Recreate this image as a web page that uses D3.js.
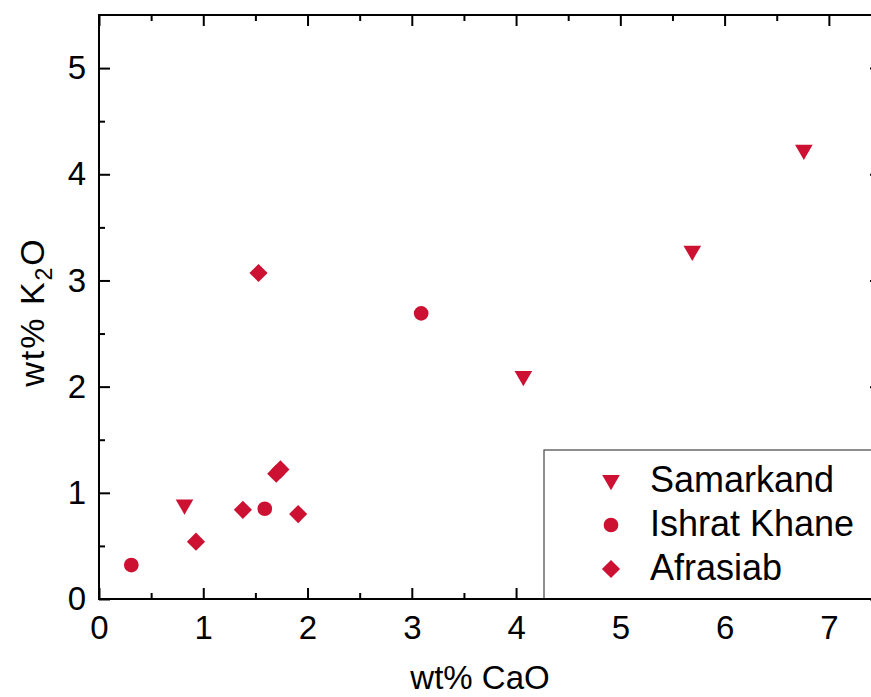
<!DOCTYPE html>
<html>
<head>
<meta charset="utf-8">
<script src="https://cdn.jsdelivr.net/npm/d3@7"></script>
<style>
  html, body { margin: 0; padding: 0; background: #fff; }
  svg { display: block; font-family: "Liberation Sans", Arial, sans-serif; }
</style>
</head>
<body>
<svg id="chart" width="871" height="697"></svg>
<script>
// Sample compositions, wt% CaO vs wt% K2O
const samarkandCaO = [0.82, 4.07, 5.69, 6.76];
const samarkandK2O = [0.89, 2.10, 3.28, 4.23];

const ishratCaO = [0.31, 1.59, 3.09];
const ishratK2O = [0.32, 0.85, 2.69];

const afrasiabCaO = [0.93, 1.38, 1.53, 1.70, 1.74, 1.91];
const afrasiabK2O = [0.54, 0.84, 3.07, 1.18, 1.22, 0.80];

const seriesNames = ["Samarkand", "Ishrat Khane", "Afrasiab"];
const xTicks = [0, 1, 2, 3, 4, 5, 6, 7];
const yTicks = [0, 1, 2, 3, 4, 5];

const red = "#cc1133";
const series = [
  { name: seriesNames[0], x: samarkandCaO, y: samarkandK2O, shape: "tri" },
  { name: seriesNames[1], x: ishratCaO, y: ishratK2O, shape: "circle" },
  { name: seriesNames[2], x: afrasiabCaO, y: afrasiabK2O, shape: "diamond" }
];

const svg = d3.select("#chart");
const plotL = 99, plotT = 15, plotR = 881, plotB = 599;

const x = d3.scaleLinear().domain([0, 7.5]).range([plotL, plotR]);
const y = d3.scaleLinear().domain([0, 5.5]).range([plotB, plotT]);

const minorX = d3.range(0.5, 7.5, 1);
const minorY = d3.range(0.5, 5.5, 1);

function styleAxis(g, fontSize) {
  g.select(".domain").remove();
  g.selectAll(".tick line").attr("stroke", "#000").attr("stroke-width", 2);
  g.selectAll(".tick text").attr("fill", "#000").attr("font-size", fontSize)
    .attr("font-family", "'Liberation Sans', Arial, sans-serif");
}

// bottom axis with labels, ticks inward
const gb = svg.append("g").attr("transform", `translate(0,${plotB})`)
  .call(d3.axisBottom(x).tickValues(xTicks).tickSize(-11).tickPadding(17).tickFormat(d3.format("d")));
styleAxis(gb, 33);
gb.selectAll(".tick text").attr("dy", "0.71em");
svg.append("g").attr("transform", `translate(0,${plotB})`)
  .call(d3.axisBottom(x).tickValues(minorX).tickSize(-6).tickFormat(""))
  .call(g => styleAxis(g, 0));

// top axis
svg.append("g").attr("transform", `translate(0,${plotT})`)
  .call(d3.axisTop(x).tickValues(xTicks).tickSize(-11).tickFormat(""))
  .call(g => styleAxis(g, 0));
svg.append("g").attr("transform", `translate(0,${plotT})`)
  .call(d3.axisTop(x).tickValues(minorX).tickSize(-6).tickFormat(""))
  .call(g => styleAxis(g, 0));

// left axis with labels
const gl = svg.append("g").attr("transform", `translate(${plotL},0)`)
  .call(d3.axisLeft(y).tickValues(yTicks).tickSize(-11).tickPadding(13).tickFormat(d3.format("d")));
styleAxis(gl, 33);
svg.append("g").attr("transform", `translate(${plotL},0)`)
  .call(d3.axisLeft(y).tickValues(minorY).tickSize(-6).tickFormat(""))
  .call(g => styleAxis(g, 0));

// right axis
svg.append("g").attr("transform", `translate(${plotR},0)`)
  .call(d3.axisRight(y).tickValues(yTicks).tickSize(-11).tickFormat(""))
  .call(g => styleAxis(g, 0));
svg.append("g").attr("transform", `translate(${plotR},0)`)
  .call(d3.axisRight(y).tickValues(minorY).tickSize(-6).tickFormat(""))
  .call(g => styleAxis(g, 0));

// frame
svg.append("rect")
  .attr("x", plotL).attr("y", plotT)
  .attr("width", plotR - plotL).attr("height", plotB - plotT)
  .attr("fill", "none").attr("stroke", "#000").attr("stroke-width", 2);

// symbols
const symbolFor = {
  tri: d3.symbol().type(d3.symbolTriangle).size(135),
  circle: d3.symbol().type(d3.symbolCircle).size(170),
  diamond: d3.symbol().type(d3.symbolSquare).size(165)
};
function transformFor(shape, px, py) {
  if (shape === "tri") return `translate(${px},${py}) rotate(180)`;
  if (shape === "diamond") return `translate(${px},${py}) rotate(45)`;
  return `translate(${px},${py})`;
}

series.forEach(s => {
  svg.append("g").selectAll("path")
    .data(s.x.map((v, i) => [v, s.y[i]]))
    .join("path")
    .attr("d", symbolFor[s.shape]())
    .attr("transform", d => transformFor(s.shape, x(d[0]), y(d[1])))
    .attr("fill", red);
});

// legend
const lg = svg.append("g");
lg.append("rect")
  .attr("x", 544).attr("y", 450)
  .attr("width", 340).attr("height", plotB - 450)
  .attr("fill", "#fff").attr("stroke", "#444").attr("stroke-width", 1.2);
series.forEach((s, i) => {
  const base = 491.5 + i * 44;
  const my = s.shape === "tri" ? base - 11.5 : base - 10.5;
  lg.append("path")
    .attr("d", symbolFor[s.shape]())
    .attr("transform", transformFor(s.shape, 611, my))
    .attr("fill", red);
  lg.append("text")
    .attr("x", 650).attr("y", base)
    .attr("font-size", 36).attr("fill", "#000")
    .text(s.name);
});
// bottom axis line drawn over the legend border
svg.append("line")
  .attr("x1", plotL).attr("x2", plotR).attr("y1", plotB).attr("y2", plotB)
  .attr("stroke", "#000").attr("stroke-width", 2);

// axis titles
svg.append("text")
  .attr("x", 480).attr("y", 689)
  .attr("text-anchor", "middle").attr("font-size", 33).attr("fill", "#000")
  .text("wt% CaO");

const yt = svg.append("text")
  .attr("transform", "translate(44,312) rotate(-90)")
  .attr("text-anchor", "middle").attr("font-size", 34).attr("fill", "#000")
  .attr("letter-spacing", 2);
yt.append("tspan").text("wt% K");
yt.append("tspan").attr("font-size", 23).attr("dy", 8).text("2");
yt.append("tspan").attr("dy", -8).text("O");
</script>
</body>
</html>
